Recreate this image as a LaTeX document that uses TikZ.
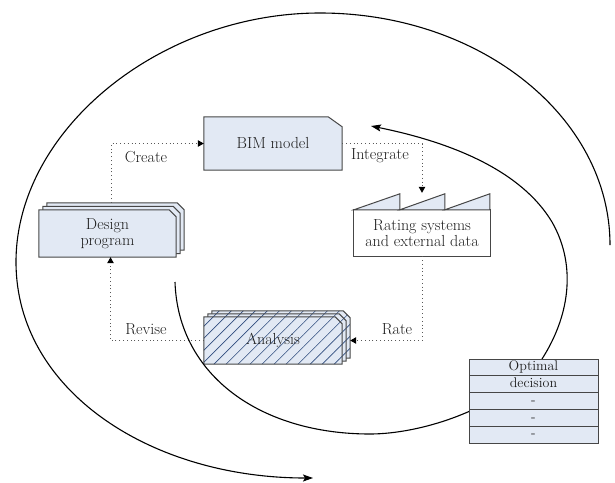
\documentclass[tikz,border=0pt]{standalone}
\usetikzlibrary{arrows.meta,patterns.meta,calc}
\definecolor{boxfill}{RGB}{226,233,244}
\definecolor{boxline}{RGB}{70,70,70}
\definecolor{hatchcol}{RGB}{45,75,125}
\definecolor{txtcol}{RGB}{30,30,30}
\pgfdeclarelayer{bg}
\pgfdeclarelayer{fg}
\pgfsetlayers{bg,main,fg}
\begin{document}
\begin{tikzpicture}[x=1pt,y=-1pt,
  font=\fontsize{16}{17}\selectfont, text=txtcol,
  geom/.style={inner sep=0pt, align=center},
  shp/.style={draw=boxline, line width=1pt, fill=boxfill},
  hatched/.style={draw=boxline, line width=1pt, preaction={fill=boxfill},
    pattern={Lines[angle=45,distance=8.5pt,line width=0.6pt]}, pattern color=hatchcol},
  conn/.style={draw=black!65, line width=1pt, dash pattern=on 1pt off 2.8pt,
    -{Triangle[length=6pt,width=6.5pt,color=black]}},
  curve/.style={line width=1.1pt, -{Stealth[length=10pt,width=7pt,inset=2pt]}},
  lbl/.style={inner sep=0pt},
  cell/.style={shp, minimum width=129pt, minimum height=16.8pt, inner sep=0pt,
    text height=9pt, text depth=2.5pt, font=\fontsize{14}{14}\selectfont}]
\useasboundingbox (0,0) rectangle (615,482);

% text / geometry nodes
\node[geom, minimum width=138pt, minimum height=53pt] (bim) at (273,143.5) {BIM model};
\node[geom, minimum width=137pt, minimum height=47pt] (dp) at (107.5,233.5) {Design\\[-1pt]program};
\node[geom, minimum width=136pt, minimum height=46pt] (rs) at (422,233) {Rating systems\\[-1pt]and external data};
\node[geom, minimum width=138pt, minimum height=47pt] (an) at (273,340.5) {Analysis};

\begin{pgfonlayer}{bg}
  % BIM model
  \path[shp] (bim.south west) -- (bim.north west) -- ($(bim.north east)+(-14,0)$)
     -- ($(bim.north east)+(0,10)$) -- (bim.south east) -- cycle;
  % Design program stack
  \foreach \d/\e in {8/7,4/3.5,0/0}{
    \path[shp] ($(dp.south west)+(\d,-\e)$) -- ($(dp.north west)+(\d,-\e)$)
      -- ($(dp.north east)+(\d-7,-\e)$) -- ($(dp.north east)+(\d,7-\e)$)
      -- ($(dp.south east)+(\d,-\e)$) -- cycle;
  }
  % Analysis stack
  \foreach \d/\e in {8/6,4/3,0/0}{
    \path[hatched] ($(an.south west)+(\d,-\e)$) -- ($(an.north west)+(\d,-\e)$)
      -- ($(an.north east)+(\d-7,-\e)$) -- ($(an.north east)+(\d,7-\e)$)
      -- ($(an.south east)+(\d,-\e)$) -- cycle;
  }
  % Rating systems
  \path[draw=boxline, line width=1pt, fill=white] (rs.south west) rectangle (rs.north east);
  \foreach \a/\b in {0/46,46/91,91/136}{
    \path[shp] ($(rs.north west)+(\a,0)$) -- ($(rs.north west)+(\b,-16)$)
      -- ($(rs.north west)+(\b,0)$) -- cycle;
  }
\end{pgfonlayer}

% dotted connectors
\draw[conn] ($(dp.north)+(3.5,-7)$) |- (bim.west);
\draw[conn] (bim.east) -| ($(rs.north)+(0,-17)$);
\draw[conn] (rs.south) |- ($(an.east)+(8,0)$);
\draw[conn] (an.west) -| ($(dp.south)+(3,0)$);

% labels
\node[lbl] (lcreate) at (146,157) {Create};
\node[lbl] (lint) at (380,156) {Integrate};
\node[lbl] (lrev) at (146,329) {Revise};
\node[lbl] (lrate) at (397,329) {Rate};

% spiral curves
\coordinate (os) at (610,245);
\coordinate (oe) at (313,478);
\draw[curve] (os) .. controls (610,117) and (480,13) .. (320,13)
   .. controls (160,13) and (16,130) .. (16,262)
   .. controls (16,390) and (150,478) .. (oe);
\coordinate (is) at (175,282);
\coordinate (ie) at (371,126);
\draw[curve] (is) .. controls (178,375) and (260,434) .. (370,434)
   .. controls (420,434) and (500,410) .. (542,359)
   .. controls (572,312) and (575,262) .. (552,222)
   .. controls (522,172) and (455,143) .. (ie);

% decision table
\begin{pgfonlayer}{fg}
  \node[cell] (t1) at (533.5,367.4) {Optimal};
  \node[cell] (t2) at (533.5,384.2) {decision};
  \node[cell] (t3) at (533.5,401.0) {-};
  \node[cell] (t4) at (533.5,417.8) {-};
  \node[cell] (t5) at (533.5,434.6) {-};
\end{pgfonlayer}
\end{tikzpicture}
\end{document}
